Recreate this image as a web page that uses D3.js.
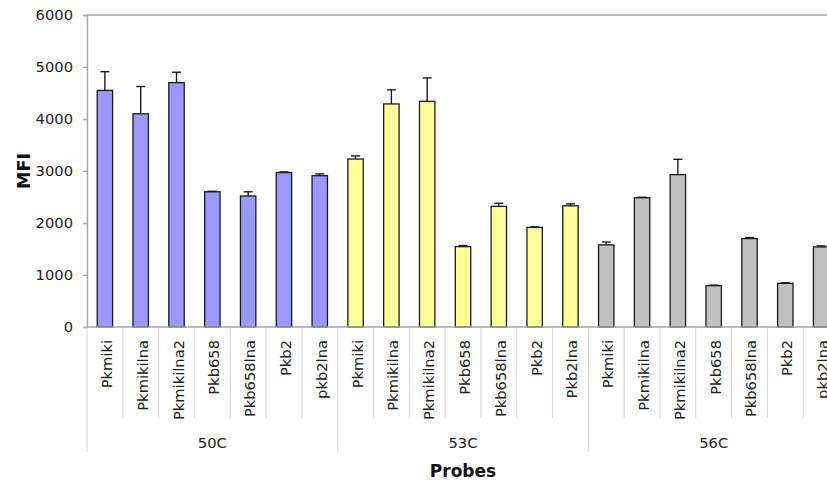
<!DOCTYPE html>
<html>
<head>
<meta charset="utf-8">
<script src="https://cdn.jsdelivr.net/npm/d3@7"></script>
<style>
  html, body { margin: 0; padding: 0; background: #fff; overflow: hidden; }
  svg { display: block; font-family: "DejaVu Sans", Verdana, sans-serif; }
</style>
</head>
<body>
<svg id="chart" width="827" height="483"></svg>
<script>
// Hybridisation temperatures (outer category level)
const groups = ["50C", "53C", "56C"];
// Probe names per temperature (inner category level)
const probes50 = ["Pkmiki", "Pkmikilna", "Pkmikilna2", "Pkb658", "Pkb658lna", "Pkb2", "pkb2lna"];
const probes53 = ["Pkmiki", "Pkmikilna", "Pkmikilna2", "Pkb658", "Pkb658lna", "Pkb2", "Pkb2lna"];
const probes56 = ["Pkmiki", "Pkmikilna", "Pkmikilna2", "Pkb658", "Pkb658lna", "Pkb2", "pkb2lna"];
// Mean fluorescence intensity
const mfi50 = [4550, 4100, 4700, 2600, 2520, 2970, 2910];
const mfi53 = [3230, 4290, 4340, 1545, 2320, 1915, 2330];
const mfi56 = [1580, 2485, 2930, 795, 1700, 840, 1540];
// Standard deviation (upper error bar)
const err50 = [360, 525, 200, 10, 80, 12, 35];
const err53 = [60, 270, 450, 22, 60, 10, 38];
const err56 = [55, 10, 295, 10, 20, 10, 20];
const yTicks = [0, 1000, 2000, 3000, 4000, 5000, 6000];
const groupFill = { "50C": "#9999ff", "53C": "#ffff99", "56C": "#c0c0c0" };

const probeSets = [probes50, probes53, probes56];
const mfiSets = [mfi50, mfi53, mfi56];
const errSets = [err50, err53, err56];

const rows = [];
groups.forEach((g, gi) => {
  probeSets[gi].forEach((p, pi) => {
    rows.push({ key: g + "|" + p, group: g, probe: p, value: mfiSets[gi][pi], err: errSets[gi][pi] });
  });
});

const svg = d3.select("#chart");
const plotL = 87, plotR = 839, plotT = 15, plotB = 327;

const x = d3.scaleBand().domain(rows.map(d => d.key)).range([plotL, plotR]).padding(0);
const y = d3.scaleLinear().domain([0, 6000]).range([plotB, plotT]);
const bw = x.bandwidth() * 0.43;

// Plot frame (top and right edges)
svg.append("path")
  .attr("d", `M${plotL},${plotT}H${plotR}V${plotB}`)
  .attr("fill", "none").attr("stroke", "#a6a6a6").attr("stroke-width", 1.5);

// Y axis
const yAxis = svg.append("g").attr("transform", `translate(${plotL},0)`)
  .call(d3.axisLeft(y).tickValues(yTicks).tickSize(4).tickPadding(10).tickFormat(d3.format("d")));
yAxis.select(".domain").attr("stroke", "#a6a6a6").attr("stroke-width", 1.5);
yAxis.selectAll(".tick line").attr("stroke", "#a6a6a6").attr("stroke-width", 1.5);
yAxis.selectAll("text").attr("font-size", "14.7px").attr("fill", "#222")
  .attr("font-family", "DejaVu Sans, Verdana, sans-serif");

// Category separators below the baseline
const keys = x.domain();
const sepX = keys.map(k => x(k)).concat([plotR]);
svg.append("g").selectAll("line").data(sepX).join("line")
  .attr("x1", d => d).attr("x2", d => d)
  .attr("y1", plotB)
  .attr("y2", (d, i) => (i % 7 === 0) ? 452 : 418)
  .attr("stroke", "#dcdcdc").attr("stroke-width", 1.2);

// Bars
svg.append("g").selectAll("rect").data(rows).join("rect")
  .attr("x", d => x(d.key) + (x.bandwidth() - bw) / 2)
  .attr("y", d => y(d.value))
  .attr("width", bw)
  .attr("height", d => y(0) - y(d.value))
  .attr("fill", d => groupFill[d.group])
  .attr("stroke", "#1a1a1a").attr("stroke-width", 1.3);

// Upper error bars
const eb = svg.append("g").attr("stroke", "#1a1a1a").attr("stroke-width", 1.4);
eb.selectAll("line.v").data(rows).join("line").attr("class", "v")
  .attr("x1", d => x(d.key) + x.bandwidth() / 2)
  .attr("x2", d => x(d.key) + x.bandwidth() / 2)
  .attr("y1", d => y(d.value))
  .attr("y2", d => y(d.value + d.err));
eb.selectAll("line.c").data(rows).join("line").attr("class", "c")
  .attr("x1", d => x(d.key) + x.bandwidth() / 2 - 4.5)
  .attr("x2", d => x(d.key) + x.bandwidth() / 2 + 4.5)
  .attr("y1", d => y(d.value + d.err))
  .attr("y2", d => y(d.value + d.err));

// Baseline
svg.append("line").attr("x1", plotL).attr("x2", plotR).attr("y1", plotB).attr("y2", plotB)
  .attr("stroke", "#a6a6a6").attr("stroke-width", 1.5);

// Probe labels (rotated)
svg.append("g").selectAll("text").data(rows).join("text")
  .attr("transform", d => `translate(${x(d.key) + x.bandwidth() / 2 + 7},340) rotate(-90)`)
  .attr("text-anchor", "end")
  .attr("font-size", "14.7px").attr("fill", "#222")
  .text(d => d.probe);

// Temperature labels
svg.append("g").selectAll("text").data(groups).join("text")
  .attr("x", (g, gi) => (x(keys[gi * 7]) + (gi === 2 ? plotR : x(keys[gi * 7 + 7]))) / 2)
  .attr("y", 448)
  .attr("text-anchor", "middle")
  .attr("font-size", "14.7px").attr("fill", "#222")
  .text(g => g);

// Axis titles
svg.append("text").attr("x", (plotL + plotR) / 2).attr("y", 476.5)
  .attr("text-anchor", "middle").attr("font-weight", "bold").attr("font-size", "17px")
  .attr("fill", "#111").text("Probes");
svg.append("text").attr("transform", `translate(29.5,${(plotT + plotB) / 2}) rotate(-90)`)
  .attr("text-anchor", "middle").attr("font-weight", "bold").attr("font-size", "17.5px")
  .attr("fill", "#111").text("MFI");
</script>
</body>
</html>
